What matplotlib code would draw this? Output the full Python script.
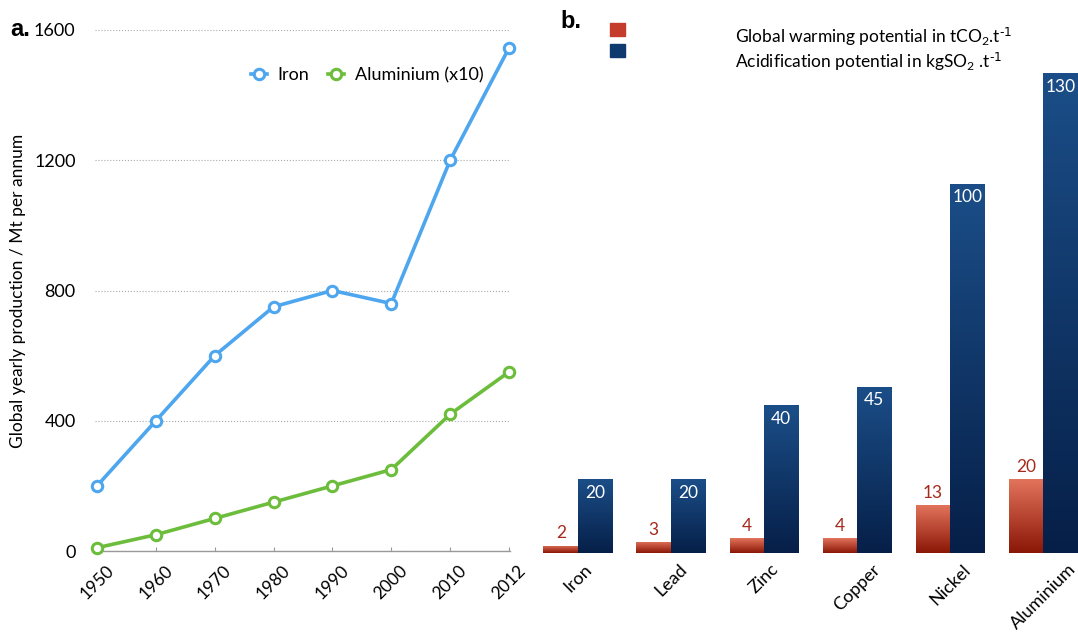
import numpy as np
import matplotlib.pyplot as plt
from matplotlib.colors import LinearSegmentedColormap
from matplotlib.patches import Rectangle

plt.rcParams['font.family'] = ['Lato', 'DejaVu Sans']
plt.rcParams['mathtext.default'] = 'regular'

# panel a: global production
years = ['1950', '1960', '1970', '1980', '1990', '2000', '2010', '2012']
iron = [200, 400, 600, 750, 800, 760, 1200, 1545]
aluminium_x10 = [10, 50, 100, 150, 200, 250, 420, 550]

# panel b: environmental impact per tonne
metals = ['Iron', 'Lead', 'Zinc', 'Copper', 'Nickel', 'Aluminium']
gwp = [2, 3, 4, 4, 13, 20]
acid = [20, 20, 40, 45, 100, 130]

W, H = 1078, 637
fig = plt.figure(figsize=(W / 100, H / 100), dpi=100)


def px_axes(x0, y0, x1, y1):
    return fig.add_axes([x0 / W, 1 - y1 / H, (x1 - x0) / W, (y1 - y0) / H])


# ---- a. line chart
ax = px_axes(95, 30, 510, 551)
xs = np.arange(len(years))
ax.plot(xs, iron, color='#4da6ee', lw=2.6, marker='o', ms=7.5, mfc='white',
        mew=2.2, label='Iron', clip_on=False, zorder=3)
ax.plot(xs, aluminium_x10, color='#6cbd3c', lw=2.6, marker='o', ms=7.5, mfc='white',
        mew=2.2, label='Aluminium (x10)', clip_on=False, zorder=3)
ax.set_xlim(-0.034, 7.017)
ax.set_ylim(0, 1600)
ax.set_yticks([0, 400, 800, 1200, 1600])
ax.set_xticks(xs)
ax.set_xticklabels(years, rotation=45, ha='center', fontsize=12.5)
ax.tick_params(axis='y', length=0, pad=14, labelsize=13)
ax.tick_params(axis='x', length=3, color='#999999', width=0.8, direction='in', pad=8)
ax.grid(axis='y', ls=':', color='#aaaaaa', lw=0.8)
for s in ['top', 'right', 'left']:
    ax.spines[s].set_visible(False)
ax.spines['bottom'].set_color('#999999')
ax.spines['bottom'].set_linewidth(1.0)
ax.set_ylabel('Global yearly production / Mt per annum', fontsize=12.5, labelpad=6)
ax.legend(loc='upper right', bbox_to_anchor=(0.975, 0.96), ncol=2, frameon=False,
          fontsize=13, handlelength=0.9, columnspacing=1.0, handletextpad=0.6)
fig.text(10 / W, 1 - 30 / H, 'a.', fontsize=17, fontweight='bold',
         family='Liberation Sans', va='center')

# ---- b. grouped bars with gradient fill
bx = px_axes(530, 20, 1078, 553)
pos = np.arange(len(metals))
w = 0.371
red_cmap = LinearSegmentedColormap.from_list('r', ['#8a1606', '#e3745c'])
blue_cmap = LinearSegmentedColormap.from_list('b', ['#061f48', '#1b4e88'])
grad = np.linspace(0, 1, 256).reshape(-1, 1)

red_bars = bx.bar(pos - w / 2, gwp, width=w, color='none')
blue_bars = bx.bar(pos + w / 2, acid, width=w, color='none')
for bars, cmap in [(red_bars, red_cmap), (blue_bars, blue_cmap)]:
    for b in bars:
        x0, h = b.get_x(), b.get_height()
        im = bx.imshow(grad, cmap=cmap, origin='lower', aspect='auto',
                       extent=(x0, x0 + b.get_width(), 0, h), zorder=2)
        im.set_clip_path(b)

for p, v in zip(pos, gwp):
    bx.annotate(str(v), (p - w / 2, v), xytext=(0, 3), textcoords='offset points',
                ha='center', va='bottom', color='#a52a1c', fontsize=12.5)
for p, v in zip(pos, acid):
    bx.annotate(str(v), (p + w / 2, v), xytext=(0, -4), textcoords='offset points',
                ha='center', va='top', color='white', fontsize=12.5)

bx.set_xlim(-0.516, 5.376)
bx.set_ylim(0, 144.4)
bx.set_xticks(pos)
bx.set_xticklabels(metals, rotation=45, ha='center', fontsize=13)
bx.tick_params(axis='x', length=0, pad=6)
bx.set_yticks([])
for s in bx.spines.values():
    s.set_visible(False)

fig.text(560 / W, 1 - 22 / H, 'b.', fontsize=17, fontweight='bold',
         family='Liberation Sans', va='center')
fig.patches.append(Rectangle((610 / W, 1 - 36 / H), 15 / W, 13 / H,
                             transform=fig.transFigure, color='#c43d2c'))
fig.patches.append(Rectangle((610 / W, 1 - 57 / H), 15 / W, 13 / H,
                             transform=fig.transFigure, color='#0f3a70'))
fig.text(735 / W, 1 - 37 / H, r'Global warming potential in tCO$_2$.t$^{\text{-1}}$',
         fontsize=12.5, va='center')
fig.text(735 / W, 1 - 62 / H, r'Acidification potential in kgSO$_2$ .t$^{\text{-1}}$',
         fontsize=12.5, va='center')

fig.savefig('out.png', dpi=100)
